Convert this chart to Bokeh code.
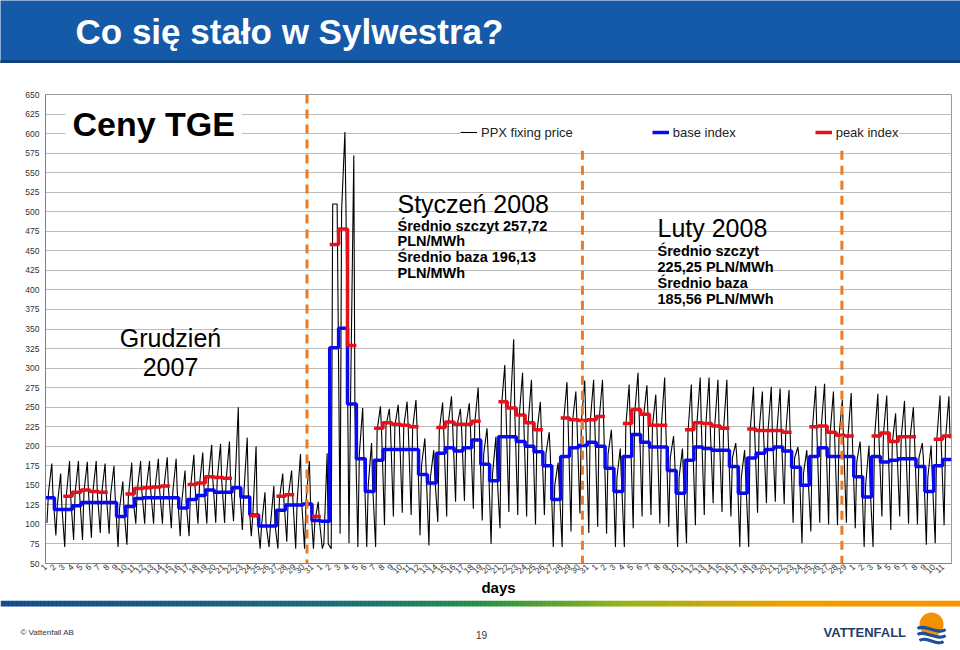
import math
from bokeh.plotting import figure
from bokeh.layouts import column
from bokeh.models import (Range1d, Label, Legend, LegendItem, FixedTicker)
from bokeh.embed import file_html
from bokeh.resources import INLINE

# ---------------- data ----------------
dec_days = [str(i) for i in range(1, 32)]
jan_days = [str(i) for i in range(1, 32)]
feb_days = [str(i) for i in range(1, 30)]
mar_days = [str(i) for i in range(1, 12)]
day_labels = dec_days + jan_days + feb_days + mar_days

base_index = [134, 119, 119, 124, 128, 128, 128, 128, 110, 123,
              133, 134, 134, 134, 134, 121, 132, 137, 144, 141,
              141, 147, 135, 112, 98, 98, 118, 125, 125, 126,
              105, 104, 326, 351, 254, 184, 142, 182, 196, 196,
              196, 196, 164, 153, 191, 198, 194, 198, 208, 177,
              156, 212, 212, 206, 200, 193, 175, 132, 187, 198,
              201, 205, 200, 172, 142, 187, 215, 205, 199, 199,
              169, 140, 182, 199, 197, 195, 195, 174, 140, 185,
              191, 196, 199, 194, 173, 150, 187, 198, 187, 187,
              187, 161, 135, 187, 180, 182, 184, 184, 174, 142,
              175, 183]

peak_index = [None, None, 136, 141, 144, 142, 141, None, None, 139,
              146, 147, 148, 149, None, None, 151, 153, 161, 160,
              159, None, None, 111, None, None, 136, 138, None, None,
              110, None, 458, 478, 329, None, None, 223, 230, 228,
              227, 225, None, None, 224, 231, 228, 228, 232, None,
              None, 257, 249, 240, 230, 221, None, None, 236, 234,
              233, 234, 238, None, None, 229, 247, 241, 227, 227,
              None, None, 221, 230, 229, 226, 223, None, None, 222,
              220, 220, 220, 218, None, None, 225, 226, 218, 214,
              213, None, None, 213, 217, 206, 212, 212, None, None,
              209, 213]

# hourly PPX fixing price, read per day: night low, daytime level, evening high
hourly_low = [102, 86, 71, 80, 80, 83, 89, 88, 71, 74,
              101, 101, 101, 101, 95, 85, 85, 101, 101, 102,
              102, 104, 93, 85, 69, 71, 69, 78, 69, 69,
              69, 69, 69, 88, 76, 71, 71, 71, 99, 110,
              115, 112, 86, 73, 103, 110, 129, 130, 120, 105,
              75, 95, 116, 112, 110, 100, 112, 71, 71, 91,
              114, 89, 97, 88, 71, 71, 95, 110, 112, 101,
              97, 71, 76, 99, 112, 127, 116, 110, 71, 71,
              115, 127, 129, 126, 102, 76, 91, 102, 100, 99,
              102, 95, 71, 71, 110, 93, 110, 101, 100, 74,
              76, 99]
hourly_mid = [140, 125, 135, 140, 142, 141, 140, 138, 120, 136,
              144, 145, 146, 147, 142, 128, 148, 150, 158, 157,
              156, 150, 140, 110, 100, 100, 132, 136, 130, 130,
              105, 75, 510, 500, 250, 190, 150, 220, 226, 226,
              225, 223, 175, 160, 220, 228, 226, 226, 230, 190,
              165, 250, 245, 238, 228, 218, 190, 150, 232, 232,
              231, 232, 234, 190, 160, 226, 242, 238, 226, 226,
              185, 160, 218, 228, 226, 224, 220, 185, 160, 220,
              218, 218, 218, 216, 185, 165, 222, 224, 216, 212,
              211, 180, 150, 211, 215, 204, 210, 210, 185, 160,
              206, 210]
hourly_high = [178, 165, 181, 181, 180, 181, 178, 175, 155, 179,
               181, 181, 184, 186, 184, 169, 189, 192, 202, 203,
               206, 250, 211, 200, 141, 149, 165, 169, 190, 181,
               129, 191, 510, 602, 572, 249, 204, 251, 248, 253,
               257, 259, 210, 195, 256, 264, 248, 255, 275, 223,
               212, 304, 337, 294, 285, 257, 218, 179, 282, 270,
               284, 285, 285, 221, 197, 279, 294, 278, 266, 288,
               213, 197, 279, 288, 288, 285, 285, 204, 195, 276,
               270, 276, 274, 272, 199, 195, 277, 280, 270, 259,
               268, 206, 201, 267, 265, 242, 258, 250, 204, 201,
               265, 264]
profile_hours = [4, 8, 17, 20]          # hour of day of low, day level, peak, evening

month_marks = [29.44, 60.45, 89.66]    # hand-drawn dashed separators (in days)
month_mark_tops = [650, 578, 578]

# ---------------- helpers ----------------
FONT = "Liberation Sans"
W = 960
FRAME_L, FRAME_R, FRAME_T, FRAME_B = 45, 951, 94, 563   # screen px
NDAYS = len(day_labels)


def dx(px):
    return (px - FRAME_L) / (FRAME_R - FRAME_L) * NDAYS


def vy(py):
    return 50 + (FRAME_B - py) / (FRAME_B - FRAME_T) * 600


def step_xy(vals):
    xs, ys = [], []
    for d, v in enumerate(vals):
        if v is None:
            xs.append(float("nan"))
            ys.append(float("nan"))
            continue
        xs += [d, d + 1]
        ys += [v, v]
    return xs, ys


# ---------------- title bar ----------------
TH = 63
t = figure(width=W, height=TH, x_range=Range1d(0, W), y_range=Range1d(TH, 0),
           output_backend="svg", toolbar_location=None, min_border=0,
           x_axis_type=None, y_axis_type=None, frame_align=False,
           background_fill_color="#155aa8", border_fill_color="#155aa8",
           outline_line_color=None)
t.grid.visible = False
t.quad(left=[0], right=[W], top=[60], bottom=[TH], color="#0e427c")
t.add_layout(Label(x=75, y=31, text="Co się stało w Sylwestra?", text_color="white",
                   text_font=FONT, text_font_style="bold", text_font_size="35px",
                   text_baseline="middle", text_align="left"))

# ---------------- chart ----------------
CH = 537
p = figure(width=W, height=CH, x_range=Range1d(0, NDAYS), y_range=Range1d(50, 650),
           output_backend="svg", toolbar_location=None, frame_align=False,
           min_border_left=FRAME_L, min_border_right=W - FRAME_R,
           min_border_top=FRAME_T - TH, min_border_bottom=TH + CH - FRAME_B,
           background_fill_color="white", border_fill_color="white",
           outline_line_color="#9a9a9a")

p.xgrid.visible = False
p.ygrid.grid_line_color = "#bcbcbc"
p.ygrid.grid_line_width = 1

p.yaxis.ticker = FixedTicker(ticks=list(range(50, 651, 25)))
p.xaxis.ticker = FixedTicker(ticks=list(range(NDAYS)))
p.xaxis.major_label_overrides = {i: lbl for i, lbl in enumerate(day_labels)}
p.xaxis.major_label_orientation = math.pi / 4
for ax in (p.xaxis, p.yaxis):
    ax.axis_line_color = "#808080"
    ax.major_tick_line_color = None
    ax.minor_tick_line_color = None
    ax.major_tick_out = 0
    ax.major_tick_in = 0
    ax.minor_tick_out = 0
    ax.minor_tick_in = 0
    ax.major_label_text_font = FONT
    ax.major_label_text_font_size = "8.5px"
    ax.major_label_text_color = "#333333"
p.yaxis.axis_label = None
p.yaxis.major_label_standoff = 6
p.xaxis.major_label_standoff = 2
p.xaxis.axis_label = "days"
p.xaxis.axis_label_standoff = 0
p.xaxis.axis_label_text_font = FONT
p.xaxis.axis_label_text_font_size = "15px"
p.xaxis.axis_label_text_font_style = "bold"
p.xaxis.axis_label_text_color = "black"

# hourly line
hx, hy = [], []
for d in range(NDAYS):
    for h, arr in zip(profile_hours, [hourly_low, hourly_mid, hourly_high, hourly_mid]):
        hx.append(d + h / 24)
        hy.append(arr[d])
r_ppx = p.line(hx, hy, line_color="black", line_width=1.1)

bx, by = step_xy(base_index)
r_base = p.line(bx, by, line_color="#0a0af0", line_width=3.5)
rx, ry = step_xy(peak_index)
r_peak = p.line(rx, ry, line_color="#e8101a", line_width=3.5)

p.segment(x0=month_marks, y0=month_mark_tops, x1=month_marks, y1=[50] * len(month_marks),
          line_color="#ee7a22", line_width=3, line_dash="9 6")

legend = Legend(items=[LegendItem(label="PPX fixing price", renderers=[r_ppx]),
                       LegendItem(label="base index", renderers=[r_base]),
                       LegendItem(label="peak index", renderers=[r_peak])],
                orientation="horizontal", location=(415, 423),
                glyph_width=17, glyph_height=16, label_height=16, label_standoff=4,
                spacing=79, padding=2, margin=0,
                label_text_font=FONT, label_text_font_size="13px", label_text_color="#222222",
                background_fill_color="white", background_fill_alpha=1.0,
                border_line_color=None)
p.add_layout(legend)


def lab(px, py, text, size, bold=False, align="left", angle=0.0, bg=None, pad=0):
    kw = dict(x=dx(px), y=vy(py), text=text, text_font=FONT, text_font_size=size,
              text_font_style="bold" if bold else "normal", text_color="black",
              text_align=align, text_baseline="middle", angle=angle)
    if bg:
        kw.update(background_fill_color=bg, background_fill_alpha=1.0, padding=pad)
    p.add_layout(Label(**kw))


lab(65, 123, "Ceny TGE", "34px", bold=True, bg="white", pad=7)
lab(485, 81, "PPX fixing prices in hourly resolution", "16px", bold=True, align="center")
lab(170, 337, "Grudzień", "25px", align="center")
lab(170, 366, "2007", "25px", align="center")
lab(397, 203, "Styczeń 2008", "25px")
for i, s in enumerate(["Średnio szczyt 257,72", "PLN/MWh", "Średnio baza 196,13", "PLN/MWh"]):
    lab(397, 225 + i * 15.7, s, "14.5px", bold=True)
lab(657, 227, "Luty 2008", "25px")
for i, s in enumerate(["Średnio szczyt", "225,25 PLN/MWh", "Średnio baza", "185,56 PLN/MWh"]):
    lab(657, 250 + i * 16, s, "14.5px", bold=True)
lab(13, 325, "PLN / MWh", "15px", bold=True, align="center", angle=math.pi / 2)

# ---------------- footer ----------------
FH = 48
FY0 = TH + CH
f = figure(width=W, height=FH, x_range=Range1d(0, W), y_range=Range1d(FH, 0),
           output_backend="svg", toolbar_location=None, min_border=0,
           x_axis_type=None, y_axis_type=None, frame_align=False,
           background_fill_color="white", border_fill_color="white", outline_line_color=None)
f.grid.visible = False

stops = [(0.0, (23, 77, 140)), (0.35, (28, 110, 120)), (0.5, (40, 145, 75)),
         (0.65, (150, 180, 30)), (0.82, (240, 160, 0)), (1.0, (244, 150, 0))]


def grad(tpos):
    for (a, ca), (b, cb) in zip(stops[:-1], stops[1:]):
        if a <= tpos <= b:
            k = (tpos - a) / (b - a)
            c = [int(ca[j] + (cb[j] - ca[j]) * k) for j in range(3)]
            return "#%02x%02x%02x" % tuple(c)
    return "#f49600"


nseg = 240
lefts = [i * W / nseg for i in range(nseg)]
rights = [(i + 1) * W / nseg + 0.5 for i in range(nseg)]
cols = [grad((i + 0.5) / nseg) for i in range(nseg)]
f.quad(left=lefts, right=rights, top=[0] * nseg, bottom=[6] * nseg,
       color=cols, line_color=None)

f.add_layout(Label(x=20, y=632 - FY0, text="© Vattenfall AB", text_font=FONT, text_font_size="8px",
                   text_color="#333333", text_baseline="middle"))
f.add_layout(Label(x=481, y=634 - FY0, text="19", text_font=FONT, text_font_size="10px",
                   text_color="#333333", text_baseline="middle", text_align="center"))
f.add_layout(Label(x=823, y=632 - FY0, text="VATTENFALL", text_font=FONT, text_font_size="13px",
                   text_font_style="bold", text_color="#1f3d6d", text_baseline="middle"))
# logo
f.circle(x=[931], y=[624 - FY0], radius=12, fill_color="#f39200", line_color=None)
f.bezier(x0=[917, 917, 919], y0=[628 - FY0, 634 - FY0, 640 - FY0],
         x1=[945, 945, 943], y1=[629 - FY0, 635 - FY0, 641 - FY0],
         cx0=[925, 925, 926], cy0=[623 - FY0, 629 - FY0, 635 - FY0],
         cx1=[937, 937, 936], cy1=[635 - FY0, 641 - FY0, 646 - FY0],
         line_color="#1f4e9a", line_width=3)

layout = column(t, p, f, spacing=0)
open("out.html", "w").write(file_html(layout, INLINE))
